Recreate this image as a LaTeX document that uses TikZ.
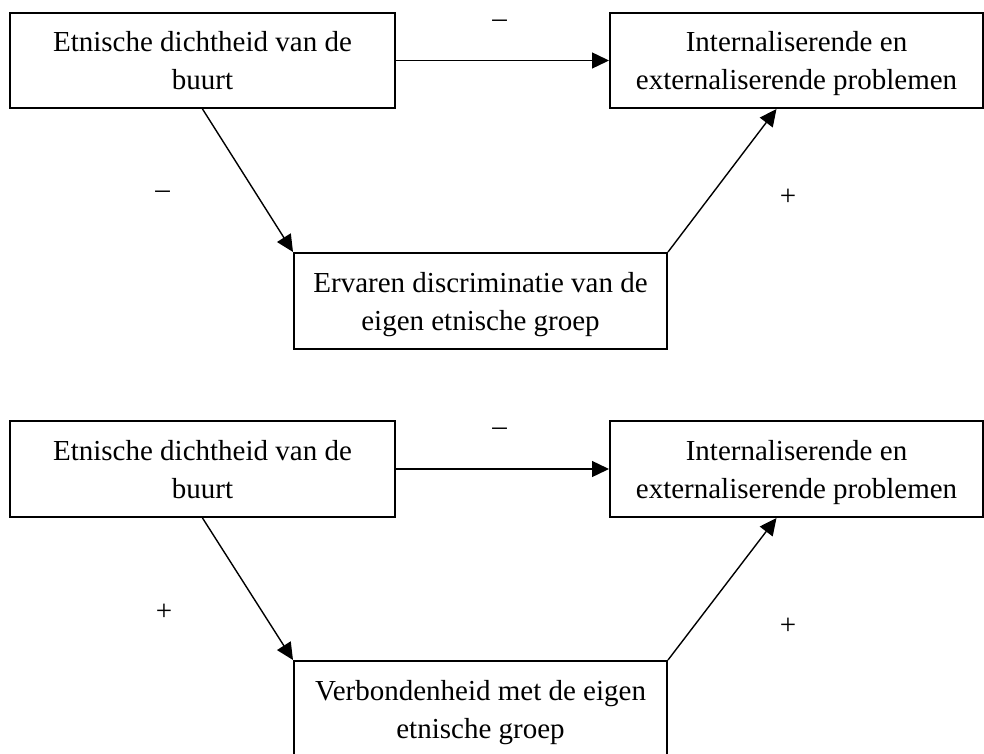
\documentclass[tikz,border=0pt]{standalone}
\usepackage{fontspec}
\setmainfont{Liberation Serif}
\usepackage{tikz}
\usetikzlibrary{arrows.meta}

\begin{document}
\begin{tikzpicture}[
            x = 0.5pt, y = -0.5pt, % one unit per pixel
            > = {Triangle[length=8.5pt, width=8pt]}, % arrow head style
            line width = 0.7pt % line style
        ]

        \tikzstyle{factor}=[
            draw = black,
            line width = 1pt,
            fill = white,
            align = center,
            inner sep = 0pt,
            text height = 29.5pt,
            text depth = 0pt,
            font = \fontsize{14.5pt}{19pt}\selectfont
        ]
        \tikzstyle{sign}=[
            inner sep = 0pt,
            font = \fontsize{14.5pt}{19pt}\selectfont
        ]

        \useasboundingbox (0,0) rectangle (984,754);

        % eerste model
        \node[factor, minimum width=192.5pt, minimum height=47.5pt] (dichtheid) at (202.5,60.5)
            {Etnische dichtheid van de\\buurt};
        \node[factor, minimum width=186.5pt, minimum height=47.5pt] (problemen) at (796.5,60.5)
            {Internaliserende en\\externaliserende problemen};
        \node[factor, minimum width=186.5pt, minimum height=48pt] (discriminatie) at (480.5,301)
            {Ervaren discriminatie van de\\eigen etnische groep};

        \draw[->] (dichtheid) -- (problemen);
        \draw[->] (dichtheid.south) -- (discriminatie.north west);
        \draw[->] (discriminatie.north east) -- ([xshift=-10pt]problemen.south);

        \node[sign] (s1) at (499.5,24) {–};
        \node[sign] (s2) at (162.5,195) {–};
        \node[sign] (s3) at (788,197) {+};

        % tweede model
        \node[factor, minimum width=192.5pt, minimum height=48pt] (dichtheidB) at (202.5,469)
            {Etnische dichtheid van de\\buurt};
        \node[factor, minimum width=186.5pt, minimum height=48pt] (problemenB) at (796.5,469)
            {Internaliserende en\\externaliserende problemen};
        \node[factor, minimum width=186.5pt, minimum height=48pt] (verbondenheid) at (480.5,709)
            {Verbondenheid met de eigen\\etnische groep};

        \draw[->] (dichtheidB) -- (problemenB);
        \draw[->] (dichtheidB.south) -- (verbondenheid.north west);
        \draw[->] (verbondenheid.north east) -- ([xshift=-10pt]problemenB.south);

        \node[sign] (s4) at (499.5,432) {–};
        \node[sign] (s5) at (164,612) {+};
        \node[sign] (s6) at (788,626) {+};

  \end{tikzpicture}
\end{document}
